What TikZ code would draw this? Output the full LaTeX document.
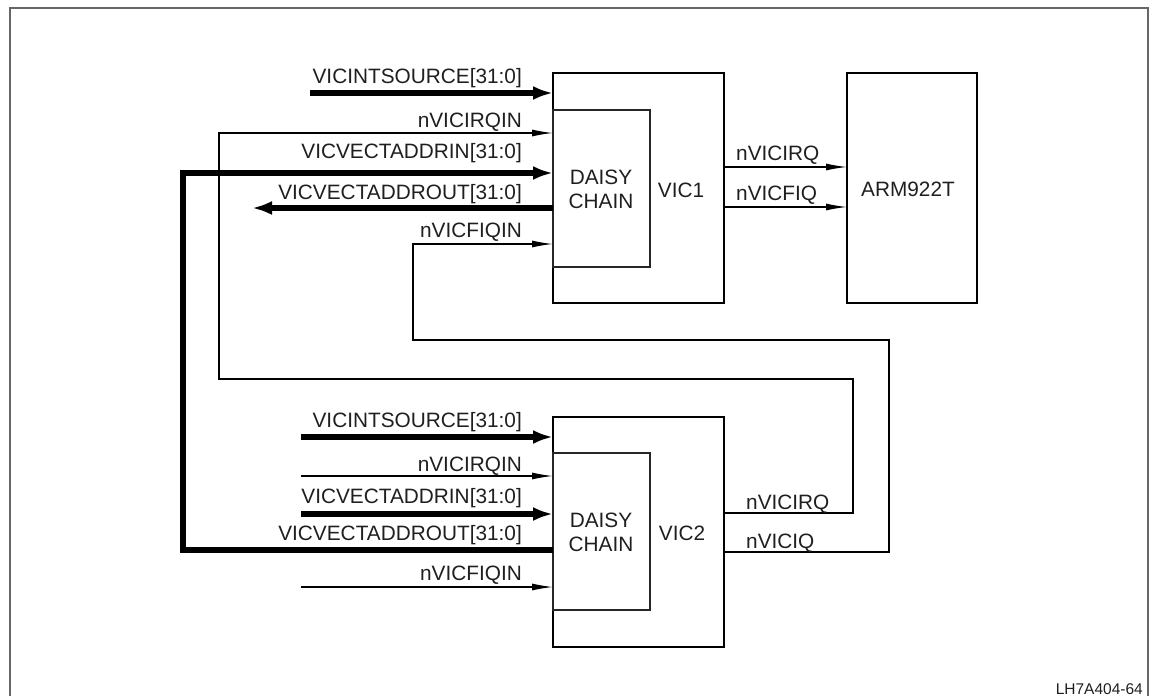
\documentclass[tikz,border=0pt]{standalone}
\usepackage{fontspec}
\setmainfont{Liberation Sans}
\usetikzlibrary{arrows.meta}
\begin{document}
\begin{tikzpicture}[x=1pt,y=-1pt,
  blk/.style={draw=black,line width=2.8pt,minimum width=#1,inner sep=0pt,outer sep=0pt},
  inner/.style={draw=black!85,line width=1.8pt,inner sep=0pt,outer sep=0pt,minimum width=97pt,minimum height=157pt},
  bus/.style={line width=5.2pt,-{Latex[length=20pt,width=14pt]}},
  sig/.style={line width=1.3pt,-{Latex[length=21pt,width=7pt]}},
  lbl/.style={inner sep=0pt,text=black!88,font=\fontsize{20.8}{24}\selectfont},
  lbr/.style={lbl,anchor=base east},
  lbw/.style={lbl,anchor=base west},
  lbc/.style={lbl,anchor=base}]
\useasboundingbox (0,0) rectangle (1151,696);
% frame
\draw[black!60,line width=2pt] (9.5,696) -- (9.5,8) -- (1148,8) -- (1148,696);
\node[lbl,anchor=base east,font=\fontsize{15.5}{18}\selectfont] (tag) at (1143,694) {LH7A404-64};

% boxes
\node[blk=171pt,minimum height=230pt] (vic1) at (638.5,188) {};
\node[blk=130pt,minimum height=230pt] (arm) at (912,188) {};
\node[blk=171pt,minimum height=230pt] (vic2) at (638.5,532) {};
\node[inner] (dc1) at (601.5,188.5) {};
\node[inner] (dc2) at (601.5,531.5) {};

\node[lbc] (dc1a) at (601,184) {DAISY};
\node[lbc] (dc1b) at (601,208) {CHAIN};
\node[lbc] (dc2a) at (601,527) {DAISY};
\node[lbc] (dc2b) at (601,551.5) {CHAIN};
\node[lbc] (v1l) at (681,197) {VIC1};
\node[lbc] (v2l) at (682,540) {VIC2};
\node[lbc] (arml) at (908,196) {ARM922T};

% VIC1 inputs
\coordinate (s1) at (310,93);
\draw[bus] (s1) -- (vic1.west |- s1);
\node[lbr] at (522,83) {VICINTSOURCE[31:0]};
\draw[sig] (vic2.east |- 0,513) -| (853,379) -| (219,133) -- (vic1.west |- 0,133);
\node[lbr] at (522,127) {nVICIRQIN};
\draw[bus] (vic2.west |- 0,550) -| (183,173) -- (vic1.west |- 0,173);
\node[lbr] at (522,158) {VICVECTADDRIN[31:0]};
\coordinate (o1) at (252,208);
\draw[bus] (vic1.west |- o1) -- (o1);
\node[lbr] at (522,199) {VICVECTADDROUT[31:0]};
\draw[sig] (vic2.east |- 0,552) -| (889,340) -| (413,244) -- (vic1.west |- 0,244);
\node[lbr] at (522,237) {nVICFIQIN};

% VIC1 outputs
\draw[sig] (vic1.east |- 0,167) -- (arm.west |- 0,167);
\node[lbw] at (736,160) {nVICIRQ};
\draw[sig] (vic1.east |- 0,207) -- (arm.west |- 0,207);
\node[lbw] at (736,200) {nVICFIQ};

% VIC2 inputs
\coordinate (s2) at (301,437);
\draw[bus] (s2) -- (vic2.west |- s2);
\node[lbr] at (522,427.5) {VICINTSOURCE[31:0]};
\coordinate (s3) at (301,476);
\draw[sig] (s3) -- (vic2.west |- s3);
\node[lbr] at (522,471.5) {nVICIRQIN};
\coordinate (s4) at (301,514);
\draw[bus] (s4) -- (vic2.west |- s4);
\node[lbr] at (522,503.5) {VICVECTADDRIN[31:0]};
\node[lbr] at (522,540.5) {VICVECTADDROUT[31:0]};
\coordinate (s5) at (301,587);
\draw[sig] (s5) -- (vic2.west |- s5);
\node[lbr] at (522,580.5) {nVICFIQIN};

% VIC2 outputs labels
\node[lbw] at (746,509) {nVICIRQ};
\node[lbw] at (746,548) {nVICIQ};
\end{tikzpicture}
\end{document}
